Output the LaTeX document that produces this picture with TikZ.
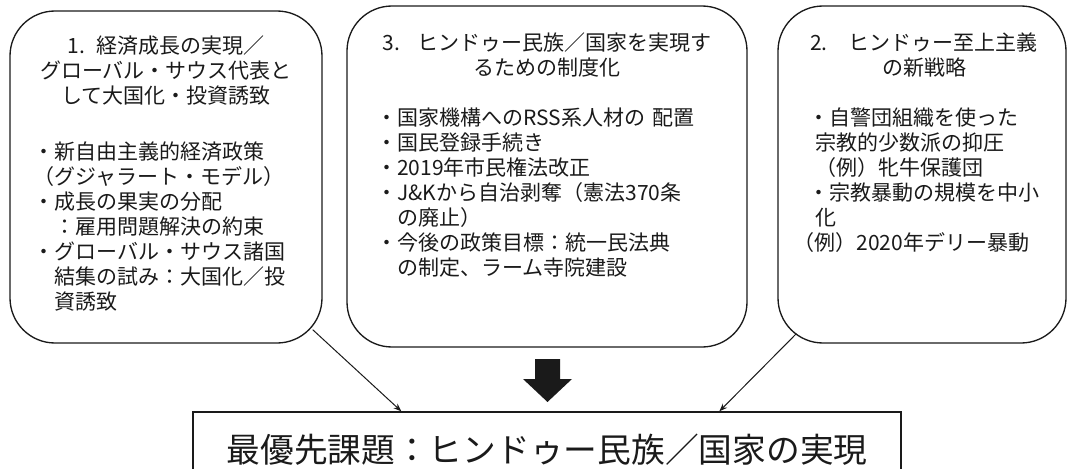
\documentclass[tikz,border=0pt]{standalone}
\usepackage{fontspec}
\setmainfont{Noto Sans CJK JP}
\usetikzlibrary{arrows.meta,calc}
\definecolor{ink}{HTML}{1A1A1A}
\begin{document}
\begin{tikzpicture}[x=0.75pt,y=-0.75pt,
  box/.style={draw=ink, line width=1pt, rounded corners=33.75pt, inner sep=0pt},
  txt/.style={inner sep=0pt, text=ink, font=\fontsize{15.75pt}{18.75pt}\selectfont},
  conn/.style={draw=ink, line width=0.75pt, -{Stealth[length=6pt,width=4.5pt]}}]
\useasboundingbox (0,0) rectangle (1067,468);
\clip (0,0) rectangle (1067,468);
% boxes
\node[box, minimum width=234pt, minimum height=249pt] (L) at (166,177) {};
\node[box, minimum width=300pt, minimum height=255.75pt] (M) at (547,176.5) {};
\node[box, minimum width=216pt, minimum height=252.75pt] (R) at (922,174.5) {};
\node[draw=ink, line width=1pt, minimum width=531pt, minimum height=57pt, inner sep=0pt,
  text=ink, font=\fontsize{25.3pt}{30pt}\selectfont] (B) at (547,450) {最優先課題：ヒンドゥー民族／国家の実現};
% left texts
\node[txt, text width=225pt, align=center, anchor=base] (Lt) at (166,53)
  {1.\hspace{0.55em}経済成長の実現／\\グローバル・サウス代表と\\して大国化・投資誘致};
\node[txt, text width=225pt, align=left, anchor=base west] (Lb) at (33,159)
  {・新自由主義的経済政策\\（グジャラート・モデル）\\・成長の果実の分配\\　：雇用問題解決の約束\\・グローバル・サウス諸国\\　結集の試み：大国化／投\\　資誘致};
% middle texts
\node[txt, text width=290pt, align=center, anchor=base] (Mt) at (547,50)
  {3.\hspace{0.8em}ヒンドゥー民族／国家を実現す\\るための制度化};
\node[txt, text width=280pt, align=left, anchor=base west] (Mb) at (376,125)
  {・国家機構へのRSS系人材の 配置\\・国民登録手続き\\・2019年市民権法改正\\・J\&Kから自治剥奪（憲法370条\\　の廃止）\\・今後の政策目標：統一民法典\\　の制定、ラーム寺院建設};
% right texts
\node[txt, text width=210pt, align=center, anchor=base] (Rt) at (924,50)
  {2.　ヒンドゥー至上主義\\の新戦略};
\node[txt, text width=205pt, align=left, anchor=base west] (Rb) at (808,125)
  {・自警団組織を使った\\\hspace*{5.25pt}宗教的少数派の抑圧\\\hspace*{5.25pt}（例）牝牛保護団\\・宗教暴動の規模を中小\\\hspace*{5.25pt}化\\\hspace*{-11pt}（例）2020年デリー暴動};
% connectors
\draw[conn] ($(L.south east)+(-10,-14)$) -- ($(B.north west)+(209,0)$);
\draw[conn] ($(R.south west)+(19,-10)$) -- ($(B.north west)+(527,0)$);
% block arrow
\fill[ink] (535,359) -- (560,359) -- (560,379) -- (572,379) -- (547.5,402) -- (523,379) -- (535,379) -- cycle;
\end{tikzpicture}
\end{document}
